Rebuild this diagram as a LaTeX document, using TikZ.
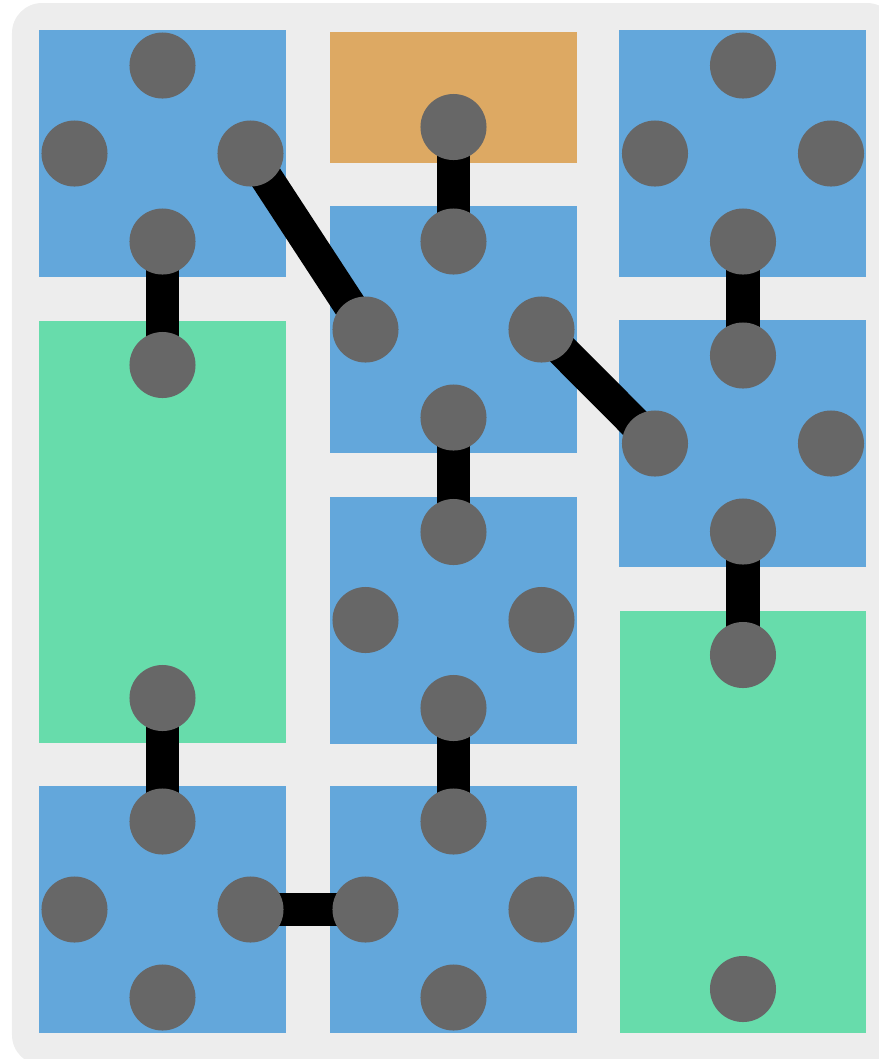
\documentclass[tikz,border=0pt]{standalone}
\definecolor{mapBack}{HTML}{EDEDED}
\definecolor{roomBlue}{HTML}{63A7DB}
\definecolor{hallGreen}{HTML}{67DCAB}
\definecolor{startGold}{HTML}{DDA963}
\definecolor{doorGray}{HTML}{676767}
\pgfdeclarelayer{tiles}
\pgfdeclarelayer{links}
\pgfsetlayers{tiles,links,main}
\tikzset{
  map frame/.style={fill=mapBack, rounded corners=0.3cm},
  room tile/.style={fill=roomBlue},
  hall tile/.style={fill=hallGreen},
  start tile/.style={fill=startGold},
  door/.style={circle, fill=doorGray, minimum size=6.6mm, inner sep=0pt},
  link/.style={draw=black, line width=3.3mm},
}

\begin{document}
\begin{tikzpicture}[x=0.01cm, y=-0.01cm]
  \useasboundingbox (0,0) rectangle (879,1059);
  \begin{pgfonlayer}{tiles}
    \fill[map frame] (12,3) rectangle (897,1065);
  \end{pgfonlayer}

  % Blue rooms, a door on each side
  \foreach \name/\cx/\cy in {a/162.5/153.5, b/453.5/329.5, c/743/153.5,
                             d/743/443.5, e/453.5/620, f/162.5/909.5, g/453.5/909.5} {
    \begin{pgfonlayer}{tiles}
      \fill[room tile] (\cx-123.5,\cy-123.5) rectangle (\cx+123.5,\cy+123.5);
    \end{pgfonlayer}
    \node[door] (\name-n) at (\cx,\cy-88) {};
    \node[door] (\name-s) at (\cx,\cy+88) {};
    \node[door] (\name-w) at (\cx-88,\cy) {};
    \node[door] (\name-e) at (\cx+88,\cy) {};
  }

  % Start room and the two long halls
  \begin{pgfonlayer}{tiles}
    \fill[start tile] (330,32) rectangle (577,163);
    \fill[hall tile] (39,321) rectangle (286,743);
    \fill[hall tile] (620,611) rectangle (866,1033);
  \end{pgfonlayer}
  \node[door] (st) at (453.5,127) {};
  \node[door] (hl-top) at (162.5,365) {};
  \node[door] (hl-bot) at (162.5,698) {};
  \node[door] (hr-top) at (743,655) {};
  \node[door] (hr-bot) at (743,989) {};

  % Corridors between doors
  \begin{pgfonlayer}{links}
    \draw[link] (st.center) -- (b-n.center);
    \draw[link] (a-s.center) -- (hl-top.center);
    \draw[link] (a-e.center) -- (b-w.center);
    \draw[link] (b-e.center) -- (d-w.center);
    \draw[link] (c-s.center) -- (d-n.center);
    \draw[link] (b-s.center) -- (e-n.center);
    \draw[link] (d-s.center) -- (hr-top.center);
    \draw[link] (hl-bot.center) -- (f-n.center);
    \draw[link] (e-s.center) -- (g-n.center);
    \draw[link] (f-e.center) -- (g-w.center);
  \end{pgfonlayer}
\end{tikzpicture}
\end{document}
